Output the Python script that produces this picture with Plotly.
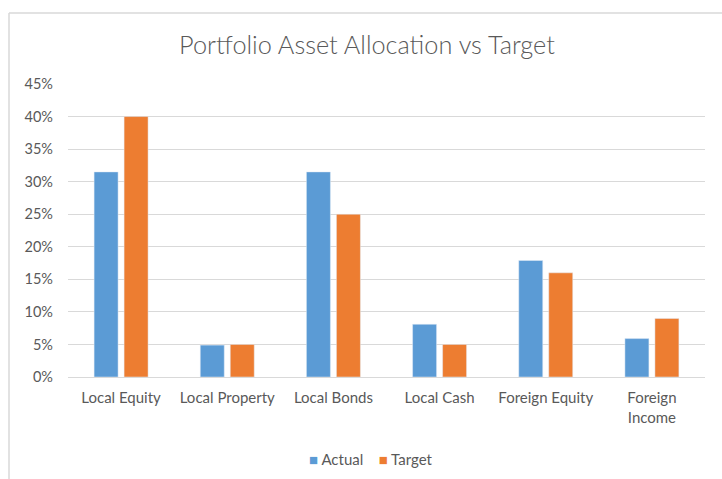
import plotly.graph_objects as go

categories = ["Local Equity", "Local Property", "Local Bonds", "Local Cash", "Foreign Equity", "Foreign<br>Income"]
series_names = ["Actual", "Target"]
series_colors = ["#5B9BD5", "#ED7D31"]
actual = [0.315, 0.049, 0.315, 0.081, 0.179, 0.059]
target = [0.40, 0.05, 0.25, 0.05, 0.16, 0.09]
y_ticks = [0, 0.05, 0.10, 0.15, 0.20, 0.25, 0.30, 0.35, 0.40, 0.45]

W, H = 722, 479
L, R, T, B = 68, 17, 84, 102
pw, ph = W - L - R, H - T - B

fig = go.Figure()
for name, vals, col in zip(series_names, [actual, target], series_colors):
    fig.add_trace(go.Bar(name=name, x=categories, y=vals, marker_color=col, showlegend=False))

font = "Lato, 'Open Sans', sans-serif"
fig.update_layout(
    width=W, height=H,
    margin=dict(l=L, r=R, t=T, b=B, autoexpand=False),
    paper_bgcolor="white", plot_bgcolor="white",
    barmode="group", bargap=0.435, bargroupgap=0.2,
    title=dict(text="Portfolio Asset Allocation vs Target", x=367 / W, xref="container", xanchor="center",
               y=1 - 45 / H, yref="container", yanchor="middle",
               font=dict(family=font, size=25.3, color="#595959", weight=300)),
    font=dict(family=font, size=15, color="#595959"),
    showlegend=False,
)
fig.update_yaxes(range=[0, 0.45], tickvals=y_ticks, tickformat=".0%", showgrid=True,
                 gridcolor="#D9D9D9", gridwidth=1, zeroline=False, showline=False,
                 ticks="", ticklabelstandoff=14, tickfont=dict(size=14.5, color="#595959"))
fig.update_xaxes(showline=True, linecolor="#D9D9D9", linewidth=1, ticks="",
                 tickfont=dict(size=15, color="#595959"), ticklabelstandoff=7)

# custom compact legend (Excel style)
nb = "\u00a0"
legend_text = (nb * 4).join(
    f"<span style='color:{c}'>■</span>{nb}{n}" for n, c in zip(series_names, series_colors)
)
fig.add_annotation(text=legend_text, xref="paper", yref="paper",
                   x=(371 - L) / pw, y=(H - B - 459) / ph, xanchor="center", yanchor="middle",
                   showarrow=False, font=dict(family=font, size=15, color="#595959"))

# chart-area border (top and left edges visible)
x0 = (9 - L) / pw
x1 = (W - L) / pw
y_top = (H - B - 13) / ph
y_bot = (H - B - H) / ph
fig.add_shape(type="line", xref="paper", yref="paper", x0=x0, x1=x1, y0=y_top, y1=y_top,
              line=dict(color="#D9D9D9", width=1.5))
fig.add_shape(type="line", xref="paper", yref="paper", x0=x0, x1=x0, y0=y_top, y1=y_bot,
              line=dict(color="#D9D9D9", width=1.5))

fig.write_html("out.html")
